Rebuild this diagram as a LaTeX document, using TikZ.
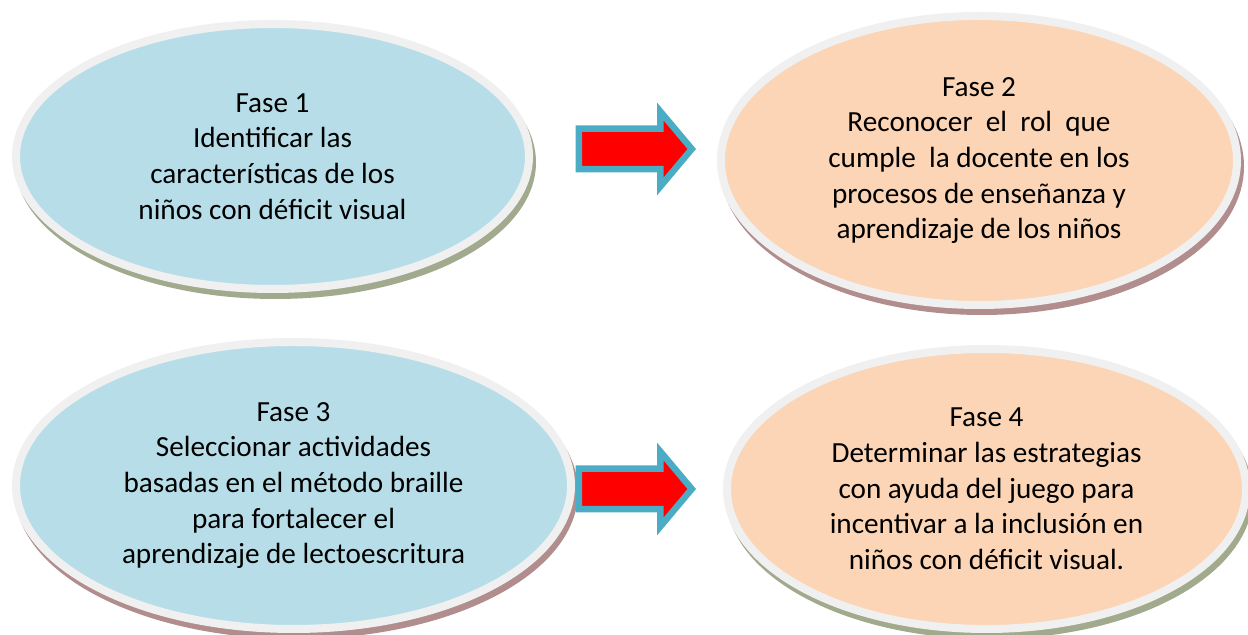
\documentclass[tikz,border=0pt]{standalone}
\usepackage{fontspec}
\setmainfont{Carlito}
\usepackage{tikz}
\usetikzlibrary{shapes.geometric}
\usetikzlibrary{shapes.arrows}
\usetikzlibrary{shadows}
\usetikzlibrary{positioning}
\definecolor{faseblue}{HTML}{B7DEE8}
\definecolor{fasepeach}{HTML}{FBD5B5}
\definecolor{faserim}{HTML}{F0F0F0}
\definecolor{shadeolive}{HTML}{A2AA8D}
\definecolor{shaderose}{HTML}{B18D8D}
\definecolor{arrowrim}{HTML}{4BACC6}
\tikzset{fase/.style={ellipse,draw=faserim,line width=4pt,inner sep=0pt,align=center,font=\fontsize{14.6}{17.85}\selectfont},
olivefase/.style={drop shadow={shadow xshift=1.5pt,shadow yshift=-3pt,fill=shadeolive,draw=shadeolive,line width=4pt,opacity=1}},
rosefase/.style={drop shadow={shadow xshift=1.5pt,shadow yshift=-3pt,fill=shaderose,draw=shaderose,line width=4pt,opacity=1}},
blockarrow/.style={single arrow,draw=arrowrim,fill=red,line width=3.25pt,inner xsep=0pt,inner ysep=8.5pt,single arrow head extend=8.5pt,single arrow tip angle=100,minimum height=56.5pt,anchor=tail}}

\begin{document}
\begin{tikzpicture}[x=0.5pt,y=-0.5pt]
\useasboundingbox (0,0) rectangle (1248,635);
\node[fase,olivefase,fill=faseblue,minimum width=256.5pt,minimum height=132.5pt] (f1) at (272.5,156.5) {Fase 1\\Identificar las\\características de los\\niños con déficit visual};
\node[fase,rosefase,fill=fasepeach,minimum width=258pt,minimum height=144.5pt] (f2) at (979,160.5) {Fase 2\\Reconocer\ \ el\ \ rol\ \ que\\cumple\ \ la docente en los\\procesos de enseñanza y\\aprendizaje de los niños};
\node[fase,rosefase,fill=faseblue,minimum width=277.5pt,minimum height=143.5pt] (f3) at (293.5,485.5) {Fase 3\\Seleccionar actividades\\basadas en el método braille\\para fortalecer el\\aprendizaje de lectoescritura};
\node[fase,olivefase,fill=fasepeach,minimum width=259.5pt,minimum height=140pt] (f4) at (986.5,489) {Fase 4\\Determinar las estrategias\\con ayuda del juego para\\incentivar a la inclusión en\\niños con déficit visual.};
\node[blockarrow] (a12) at (575.5,149) {};
\node[blockarrow] (a34) at (575.5,489) {};
\end{tikzpicture}
\end{document}
